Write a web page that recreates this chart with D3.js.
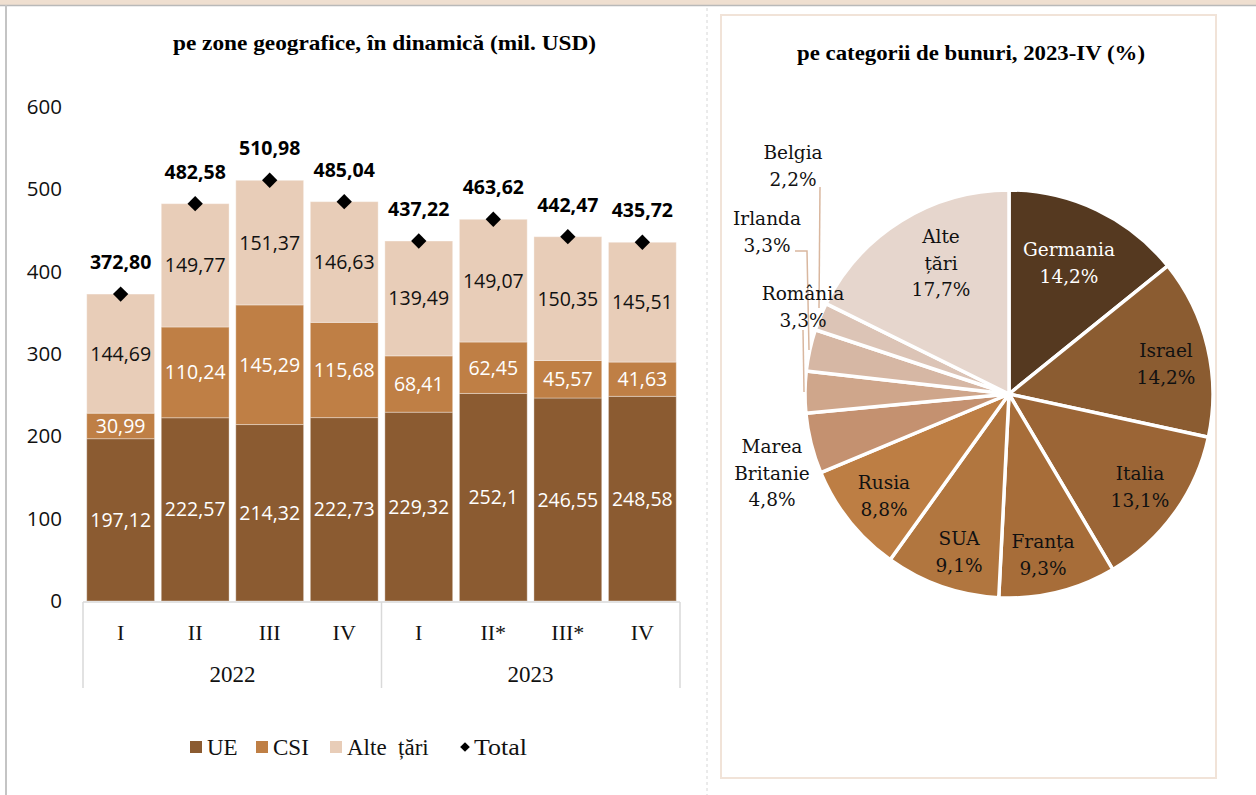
<!DOCTYPE html>
<html>
<head>
<meta charset="utf-8">
<script src="https://cdn.jsdelivr.net/npm/d3@7"></script>
<style>
  html, body { margin: 0; padding: 0; background: #fff; }
  svg { display: block; }
</style>
</head>
<body>
<svg id="chart" width="1256" height="795"></svg>
<script>
// ---- Bar chart data: exports by geographic zone (mil. USD) ----
const quarters = ["I", "II", "III", "IV", "I", "II*", "III*", "IV"];
const years = ["2022", "2023"];
const yearOfQuarter = [0, 0, 0, 0, 1, 1, 1, 1];
const seriesNames = ["UE", "CSI", "Alte  țări"];
const ue = [197.12, 222.57, 214.32, 222.73, 229.32, 252.1, 246.55, 248.58];
const csi = [30.99, 110.24, 145.29, 115.68, 68.41, 62.45, 45.57, 41.63];
const alte = [144.69, 149.77, 151.37, 146.63, 139.49, 149.07, 150.35, 145.51];
const totals = [372.80, 482.58, 510.98, 485.04, 437.22, 463.62, 442.47, 435.72];
const yTicks = [0, 100, 200, 300, 400, 500, 600];

// ---- Pie chart data: structure by country, 2023-IV (%) ----
const countries = ["Germania", "Israel", "Italia", "Franța", "SUA", "Rusia",
                   "Marea Britanie", "România", "Irlanda", "Belgia", "Alte țări"];
const shares = [14.2, 14.2, 13.1, 9.3, 9.1, 8.8, 4.8, 3.3, 3.3, 2.2, 17.7];

const fmt = v => v.toString().replace(".", ",");
const fmt2 = v => v.toFixed(2).replace(".", ",");

const svg = d3.select("#chart");

// ---- page frame ----
svg.append("rect").attr("x", 0).attr("y", 0).attr("width", 1256).attr("height", 5).attr("fill", "#efdfd0");
svg.append("line").attr("x1", 0).attr("x2", 1256).attr("y1", 5.5).attr("y2", 5.5).attr("stroke", "#b9b9b9").attr("stroke-width", 1.5);
svg.append("line").attr("x1", 6).attr("x2", 6).attr("y1", 5).attr("y2", 795).attr("stroke", "#c4c4c4").attr("stroke-width", 2);
svg.append("line").attr("x1", 707).attr("x2", 707).attr("y1", 8).attr("y2", 795)
  .attr("stroke", "#d6d6d6").attr("stroke-width", 1).attr("stroke-dasharray", "3,3");
svg.append("rect").attr("x", 721).attr("y", 15).attr("width", 495).attr("height", 763)
  .attr("fill", "none").attr("stroke", "#f1e3d8").attr("stroke-width", 2);

// ---- bar chart ----
const barColors = ["#8b5b31", "#bf7f45", "#e8cdb8"];
const labelColors = ["#ffffff", "#ffffff", "#111111"];

const x = d3.scaleBand().domain(d3.range(quarters.length)).range([83, 680])
  .paddingInner(0.09).paddingOuter(0.05);
const y = d3.scaleLinear().domain([0, 600]).range([601, 107]);

svg.append("text").attr("x", 384.5).attr("y", 50).attr("text-anchor", "middle")
  .attr("font-family", "Liberation Serif").attr("font-weight", "bold").attr("font-size", 21)
  .attr("textLength", 423).attr("lengthAdjust", "spacingAndGlyphs")
  .text("pe zone geografice, în dinamică (mil. USD)");

// y axis (labels only)
const yAxis = d3.axisLeft(y).tickValues(yTicks).tickSize(0).tickPadding(0);
const gy = svg.append("g").attr("transform", "translate(62,0)").call(yAxis);
gy.select(".domain").remove();
gy.selectAll("text").attr("font-family", "Open Sans").attr("font-size", 20.5).attr("fill", "#111");

// stacked segments
const rows = quarters.map((q, i) => ({ i, UE: ue[i], CSI: csi[i], ALT: alte[i] }));
const stack = d3.stack().keys(["UE", "CSI", "ALT"])(rows);
stack.forEach((layer, k) => {
  const g = svg.append("g");
  g.selectAll("rect").data(layer).join("rect")
    .attr("x", d => x(d.data.i))
    .attr("width", x.bandwidth())
    .attr("y", d => y(d[1]))
    .attr("height", d => y(d[0]) - y(d[1]))
    .attr("fill", barColors[k])
    .attr("stroke", "rgba(255,255,255,0.35)").attr("stroke-width", 1);
  g.selectAll("text").data(layer).join("text")
    .attr("x", d => x(d.data.i) + x.bandwidth() / 2)
    .attr("y", d => (y(d[0]) + y(d[1])) / 2)
    .attr("dy", "0.36em")
    .attr("text-anchor", "middle")
    .attr("font-family", "Open Sans").attr("font-size", 19.5)
    .attr("fill", labelColors[k])
    .text(d => fmt(d.data[layer.key]));
});

// total markers and labels
const diamond = d3.symbol().type(d3.symbolDiamond2).size(150);
svg.append("g").selectAll("path").data(totals).join("path")
  .attr("d", diamond)
  .attr("transform", (d, i) => `translate(${x(i) + x.bandwidth() / 2},${y(d)})`)
  .attr("fill", "#000");
svg.append("g").selectAll("text").data(totals).join("text")
  .attr("x", (d, i) => x(i) + x.bandwidth() / 2)
  .attr("y", d => y(d) - 25)
  .attr("text-anchor", "middle")
  .attr("font-family", "Open Sans").attr("font-weight", "bold").attr("font-size", 19.5)
  .attr("fill", "#000")
  .text(d => fmt2(d));

// two-level category axis
const axisG = svg.append("g").attr("stroke", "#d9d9d9").attr("stroke-width", 1.5);
axisG.append("line").attr("x1", 83).attr("x2", 680).attr("y1", 602).attr("y2", 602);
[0, 4, 8].forEach(b => {
  const xx = b === 8 ? 680 : (b === 0 ? 83 : (x(b - 1) + x.bandwidth() + x(b)) / 2);
  axisG.append("line").attr("x1", xx).attr("x2", xx).attr("y1", 602).attr("y2", 688);
});
svg.append("g").selectAll("text").data(quarters).join("text")
  .attr("x", (d, i) => x(i) + x.bandwidth() / 2)
  .attr("y", 640)
  .attr("text-anchor", "middle")
  .attr("font-family", "Liberation Serif").attr("font-size", 22).attr("fill", "#111")
  .text(d => d);
svg.append("g").selectAll("text").data(years).join("text")
  .attr("x", (d, k) => {
    const idx = d3.range(quarters.length).filter(i => yearOfQuarter[i] === k);
    return (x(idx[0]) + x(idx[idx.length - 1]) + x.bandwidth()) / 2;
  })
  .attr("y", 682)
  .attr("text-anchor", "middle")
  .attr("font-family", "Liberation Serif").attr("font-size", 23).attr("fill", "#111")
  .text(d => d);

// legend
const legend = svg.append("g").attr("font-family", "Liberation Serif").attr("font-size", 23).attr("fill", "#111");
const legendX = [190, 256, 330];
seriesNames.forEach((name, k) => {
  legend.append("rect").attr("x", legendX[k]).attr("y", 741).attr("width", 12).attr("height", 12).attr("fill", barColors[k]);
  legend.append("text").attr("x", legendX[k] + 17).attr("y", 755).attr("xml:space", "preserve").text(name);
});
legend.append("path").attr("d", d3.symbol().type(d3.symbolDiamond2).size(60)).attr("transform", "translate(465,747)").attr("fill", "#000");
legend.append("text").attr("x", 474).attr("y", 755).attr("textLength", 53).attr("lengthAdjust", "spacingAndGlyphs").text("Total");

// ---- pie chart ----
const pieColors = ["#553920", "#8b5c31", "#9b6536", "#a76d39", "#b1763f", "#bd7e44",
                   "#c49170", "#cfa68b", "#d6b7a4", "#dcc4b6", "#e6d6cd"];
const cx = 1009, cy = 394, R = 204;

svg.append("text").attr("x", 971).attr("y", 60).attr("text-anchor", "middle")
  .attr("font-family", "Liberation Serif").attr("font-weight", "bold").attr("font-size", 20)
  .attr("textLength", 348).attr("lengthAdjust", "spacingAndGlyphs")
  .text("pe categorii de bunuri, 2023-IV (%)");

const pie = d3.pie().sort(null).value(d => d)(shares);
const arc = d3.arc().innerRadius(0).outerRadius(R);
const pg = svg.append("g").attr("transform", `translate(${cx},${cy})`);
pg.selectAll("path").data(pie).join("path")
  .attr("d", arc)
  .attr("fill", (d, i) => pieColors[i])
  .attr("stroke", "#fff").attr("stroke-width", 3.5).attr("stroke-linejoin", "round");

// leader lines for the small slices
const leaderColor = "#d9b79f";
const leaders = [
  [[803, 330], [804, 392]],
  [[795, 251], [807, 251], [809, 350]],
  [[820, 187], [819, 308]]
];
svg.append("g").selectAll("path").data(leaders).join("path")
  .attr("d", d => d3.line()(d))
  .attr("fill", "none").attr("stroke", leaderColor).attr("stroke-width", 1.5);

// slice labels: [name lines, x, first baseline, colour]
const pieLabels = [
  [["Germania"], 1069, 256, "#fff"],
  [["Israel"], 1166, 357, "#111"],
  [["Italia"], 1140, 480, "#111"],
  [["Franța"], 1043, 548, "#111"],
  [["SUA"], 959, 545, "#111"],
  [["Rusia"], 884, 489, "#111"],
  [["Marea", "Britanie"], 772, 453, "#111"],
  [["România"], 803, 300, "#111"],
  [["Irlanda"], 767, 225, "#111"],
  [["Belgia"], 793, 159, "#111"],
  [["Alte", "țări"], 941, 243, "#111"]
];
const lg = svg.append("g").attr("font-family", "DejaVu Serif").attr("font-size", 18.5).attr("text-anchor", "middle");
pieLabels.forEach((lab, i) => {
  const [lines, lx, ly, col] = lab;
  const t = lg.append("text").attr("x", lx).attr("y", ly).attr("fill", col);
  lines.concat([fmt(shares[i]) + "%"]).forEach((s, j) => {
    t.append("tspan").attr("x", lx).attr("dy", j === 0 ? 0 : 26.5).text(s);
  });
});
</script>
</body>
</html>
